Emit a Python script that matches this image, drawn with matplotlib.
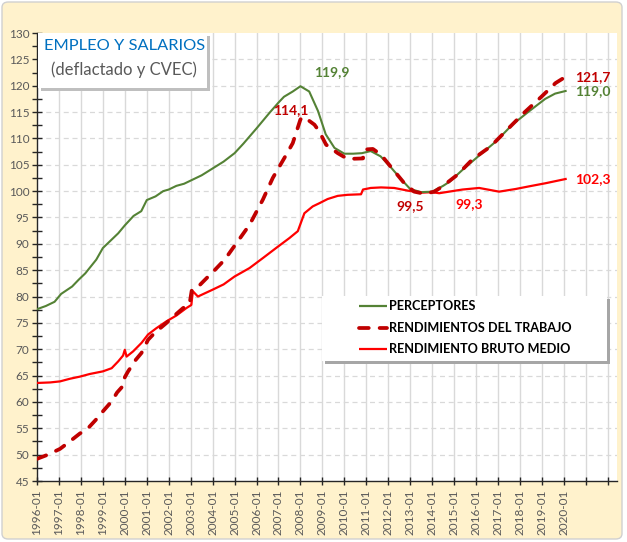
import matplotlib
matplotlib.use("Agg")
import matplotlib.pyplot as plt
from matplotlib.patches import Rectangle, FancyBboxPatch
from matplotlib.lines import Line2D
from matplotlib.ticker import MultipleLocator
import numpy as np

# PERCEPTORES
g_t = [1996.0, 1996.4, 1996.8, 1997.1, 1997.6, 1997.9, 1998.2, 1998.7, 1999.0, 1999.4,
       1999.7, 2000.0, 2000.4, 2000.75, 2001.0, 2001.4, 2001.75, 2002.0, 2002.35, 2002.7,
       2003.0, 2003.5, 2004.0, 2004.5, 2005.0, 2005.4, 2006.0, 2006.6, 2007.0, 2007.25,
       2007.65, 2008.0, 2008.4, 2008.8, 2009.15, 2009.55, 2010.0, 2010.4, 2010.8, 2011.2,
       2011.65, 2012.1, 2012.6, 2013.0, 2013.5, 2014.0, 2014.5, 2014.8, 2015.4, 2016.1,
       2016.9, 2017.65, 2018.4, 2019.15, 2019.6, 2020.08]
g_v = [77.6, 78.2, 79.0, 80.5, 81.9, 83.2, 84.4, 87.0, 89.2, 90.8,
       92.0, 93.5, 95.3, 96.2, 98.3, 99.0, 100.0, 100.3, 101.0, 101.4,
       102.0, 103.0, 104.3, 105.6, 107.2, 109.0, 111.9, 114.9, 116.8, 117.9,
       118.9, 119.9, 118.9, 115.2, 110.8, 108.2, 107.1, 107.1, 107.2, 107.6,
       106.6, 104.6, 102.2, 100.4, 99.8, 99.9, 101.0, 101.8, 104.1, 106.6,
       109.4, 112.6, 115.1, 117.5, 118.5, 119.0]

# RENDIMIENTOS DEL TRABAJO
d_t = [1996.0, 1996.5, 1997.05, 1997.4, 1997.95, 1998.3, 1998.7, 1999.0, 1999.4, 1999.65,
       1999.95, 2000.0, 2000.15, 2000.5, 2000.76, 2001.06, 2001.36, 2001.9, 2002.35, 2002.65,
       2002.95, 2003.05, 2003.3, 2003.8, 2004.0, 2004.55, 2005.15, 2005.68, 2006.29, 2006.74,
       2007.27, 2007.65, 2008.0, 2008.15, 2008.64, 2008.86, 2009.17, 2009.7, 2010.15, 2010.85,
       2010.92, 2011.3, 2011.67, 2012.1, 2012.73, 2013.18, 2013.64, 2014.1, 2014.47, 2015.15,
       2015.83, 2016.67, 2017.5, 2018.17, 2019.0, 2019.62, 2020.08]
d_v = [49.2, 50.0, 51.1, 52.2, 54.0, 54.9, 56.7, 58.2, 60.1, 61.8,
       63.2, 64.7, 65.8, 68.0, 69.3, 71.8, 73.1, 75.0, 76.7, 77.8,
       78.6, 81.2, 81.7, 83.8, 84.6, 87.0, 90.5, 93.6, 98.4, 102.5,
       106.3, 109.1, 113.6, 114.1, 112.6, 111.3, 108.8, 107.2, 106.1, 106.2,
       107.9, 108.0, 106.9, 104.7, 101.5, 99.9, 99.5, 99.9, 100.9, 103.1,
       106.0, 108.5, 112.0, 114.8, 118.0, 120.5, 121.7]

# RENDIMIENTO BRUTO MEDIO
r_t = [1996.0, 1996.6, 1997.05, 1997.5, 1997.95, 1998.4, 1999.0, 1999.4, 1999.7, 1999.92,
       2000.0, 2000.08, 2000.38, 2000.76, 2001.06, 2001.44, 2001.9, 2002.35, 2002.8, 2003.03,
       2003.1, 2003.33, 2004.0, 2004.5, 2005.0, 2005.68, 2006.29, 2006.89, 2007.5, 2007.88,
       2008.18, 2008.56, 2008.86, 2009.24, 2009.7, 2010.15, 2010.76, 2010.85, 2011.2, 2011.67,
       2012.27, 2012.88, 2013.49, 2014.0, 2014.32, 2014.77, 2015.38, 2016.14, 2017.05, 2017.8,
       2018.41, 2019.17, 2020.08]
r_v = [63.6, 63.7, 63.9, 64.4, 64.8, 65.3, 65.8, 66.4, 67.7, 68.8,
       69.9, 68.6, 69.6, 71.2, 72.8, 74.0, 75.3, 76.4, 77.8, 78.4,
       81.0, 80.0, 81.3, 82.3, 83.8, 85.4, 87.3, 89.2, 91.1, 92.4,
       95.8, 97.1, 97.7, 98.5, 99.1, 99.3, 99.4, 100.3, 100.6, 100.7,
       100.6, 100.1, 99.7, 99.8, 99.6, 99.9, 100.3, 100.6, 99.9, 100.4,
       100.9, 101.5, 102.3]

years = list(range(1996, 2023))
year_labels = [f"{y}-01" if y <= 2020 else "" for y in years]

# value labels: (text, x, y, colour)
annotations = [
    ("119,9", 2009.45, 122.5, "#548235"),
    ("114,1", 2007.55, 115.3, "#C00000"),
    ("121,7", 2021.3, 121.7, "#C00000"),
    ("119,0", 2021.3, 119.0, "#548235"),
    ("102,3", 2021.3, 102.2, "#FF0000"),
    ("99,5", 2013.0, 97.2, "#C00000"),
    ("99,3", 2015.7, 97.5, "#FF0000"),
]

GREEN = "#548235"
DARKRED = "#C00000"
RED = "#FF0000"
GRAY_TXT = "#595959"
GRID = "#D9D9D9"
BG = "#FFF2CC"

plt.rcParams["font.family"] = ["Lato", "DejaVu Sans"]

W, H = 627, 542
fig = plt.figure(figsize=(W / 100, H / 100), dpi=100)
fig.patch.set_facecolor("white")


def fx(px):
    return px / W


def fy(py):
    return 1 - py / H


# cream background with thin border
fig.patches.append(FancyBboxPatch((fx(2), fy(539)), fx(620), 537 / H,
                                  boxstyle="round,pad=0,rounding_size=0.01",
                                  transform=fig.transFigure, facecolor=BG,
                                  edgecolor="#D0D0D0", linewidth=1, zorder=-10))

ax = fig.add_axes([fx(37), fy(481), fx(617 - 37), (481 - 33) / H])
ax.set_facecolor("white")

ax.plot(r_t, r_v, color=RED, lw=1.6, zorder=3)
ax.plot(g_t, g_v, color=GREEN, lw=1.5, zorder=4)
ax.plot(d_t, d_v, color=DARKRED, lw=2.7, dashes=(2.6, 2.9),
        dash_capstyle="round", zorder=5)

ax.set_xlim(1996, 2022.42)
ax.set_ylim(45, 130)
ax.set_xticks(years)
ax.set_xticklabels(year_labels, rotation=90)
ax.yaxis.set_major_locator(MultipleLocator(5))
ax.yaxis.set_minor_locator(MultipleLocator(2.5))

for y in range(50, 130, 5):
    ax.axhline(y, color=GRID, lw=0.9, ls=(0, (4, 3)), zorder=1)
for x in years[1:]:
    ax.axvline(x, color=GRID, lw=1.0, zorder=1)

for s in ["top", "right"]:
    ax.spines[s].set_visible(False)
for s in ["left", "bottom"]:
    ax.spines[s].set_color("#262626")
    ax.spines[s].set_linewidth(1.0)

ax.tick_params(axis="both", which="both", direction="inout", color="#262626",
               labelcolor=GRAY_TXT, labelsize=8.5, width=1)
ax.tick_params(axis="y", which="major", length=7, pad=2)
ax.tick_params(axis="y", which="minor", length=7)
ax.tick_params(axis="x", which="major", length=6, pad=3)

for txt, x, y, c in annotations:
    ax.text(x, y, txt, color=c, fontsize=10, fontweight="bold",
            ha="center", va="center", zorder=6)

# title box
fig.patches.append(Rectangle((fx(41), fy(91)), fx(169), 55 / H, transform=fig.transFigure,
                             facecolor="#BFBFBF", edgecolor="none", zorder=8))
fig.patches.append(Rectangle((fx(38), fy(88)), fx(169), 55 / H, transform=fig.transFigure,
                             facecolor="white", edgecolor="none", zorder=9))
fig.text(fx(125), fy(46), "EMPLEO Y SALARIOS", color="#0070C0", fontsize=11.8,
         ha="center", va="center", zorder=10)
fig.text(fx(124), fy(70), "(deflactado y CVEC)", color=GRAY_TXT, fontsize=12,
         ha="center", va="center", zorder=10)

# legend box
fig.patches.append(Rectangle((fx(325), fy(364)), fx(285), 65 / H, transform=fig.transFigure,
                             facecolor="#A6A6A6", edgecolor="none", zorder=8))
fig.patches.append(Rectangle((fx(322), fy(361)), fx(285), 65 / H, transform=fig.transFigure,
                             facecolor="white", edgecolor="none", zorder=9))
legend_items = [
    ("PERCEPTORES", GREEN, 1.6, None),
    ("RENDIMIENTOS DEL TRABAJO", DARKRED, 2.7, (2.6, 2.9)),
    ("RENDIMIENTO BRUTO MEDIO", RED, 1.6, None),
]
for i, (lab, c, lw, dash) in enumerate(legend_items):
    yy = fy(306 + 21.5 * i)
    ln = Line2D([fx(359), fx(387)], [yy, yy], color=c, lw=lw, transform=fig.transFigure,
                zorder=10, dash_capstyle="round", solid_capstyle="butt")
    if dash:
        ln.set_dashes(dash)
    fig.lines.append(ln)
    fig.text(fx(389), yy, lab, color="black", fontsize=9.1, fontweight="bold",
             ha="left", va="center", zorder=10)

fig.savefig("out.png", dpi=100)
